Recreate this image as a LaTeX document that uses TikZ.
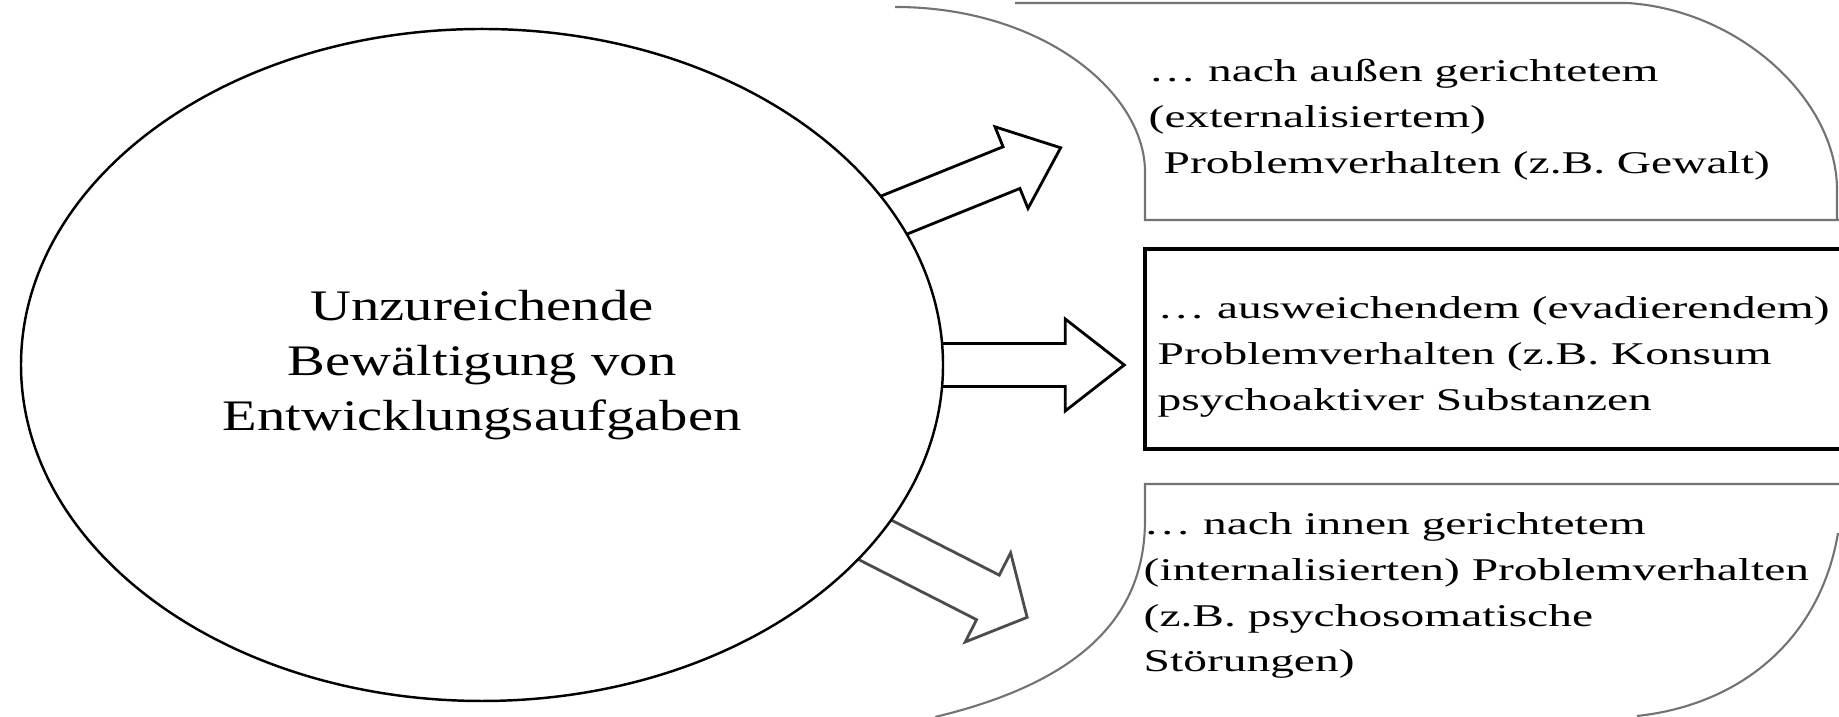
\documentclass[tikz,border=0pt]{standalone}
\usepackage{fontspec}
\newfontfamily\ellfont[FakeStretch=1.3]{Liberation Serif}
\newfontfamily\boxfont[FakeStretch=1.5]{Liberation Serif}
\usetikzlibrary{shapes.geometric,backgrounds}

\tikzset{
	cause/.style={ellipse,draw,line width=0.7pt,fill=white,minimum width=9.22cm,minimum height=6.72cm,inner sep=0pt,align=center,font=\ellfont\fontsize{12.4}{15.6}\selectfont},
	boxtext/.style={anchor=north west,inner sep=0pt,align=left,font=\boxfont\fontsize{9}{13}\selectfont},
	blockarrow/.style={draw,line width=0.8pt,fill=white,line join=miter},
	framearc/.style={draw=black!55,line width=0.6pt},
	mainbox/.style={draw,line width=1.2pt}
}

% block arrow: style, start, angle, shaft half width, head start, head half width, tip
\newcommand{\outarrow}[7]{%
	\draw[#1,shift={(#2)},rotate=#3] (-0.5,-#4) -- (#5,-#4) -- (#5,-#6) -- (#7,0) -- (#5,#6) -- (#5,#4) -- (-0.5,#4) -- cycle;}

\begin{document}
\begin{tikzpicture}
	\useasboundingbox (0,0) rectangle (18.39,7.17);
	\clip (0,0) rectangle (18.39,7.17);

	\node[cause] (cause) at (4.82,3.52) {Unzureichende\\Bewältigung von\\Entwicklungsaufgaben};

	\begin{scope}[on background layer]
		\outarrow{blockarrow}{cause.20}{22}{0.225}{1.25}{0.44}{1.78}
		\outarrow{blockarrow}{cause.0}{0}{0.215}{1.21}{0.46}{1.80}
		\outarrow{blockarrow,draw=black!70}{cause.-24}{-27}{0.25}{1.25}{0.50}{1.69}
	\end{scope}

	% upper box
	\draw[framearc] (10.15,7.14) -- (16.27,7.14) .. controls (17.40,7.07) and (18.37,6.17) .. (18.37,5.27) -- (18.37,4.97);
	\draw[framearc] (18.39,4.97) -- (11.45,4.97) -- (11.45,5.47) .. controls (11.43,6.27) and (10.40,7.10) .. (8.95,7.10);
	\node[boxtext] (ext) at (11.48,6.58) {… nach außen gerichtetem\\(externalisiertem)\\\hspace*{0.15cm}Problemverhalten (z.B. Gewalt)};

	% middle box
	\draw[mainbox] (11.45,2.68) rectangle (18.60,4.68);
	\node[boxtext] (eva) at (11.57,4.21) {… ausweichendem (evadierendem)\\Problemverhalten (z.B. Konsum\\psychoaktiver Substanzen};

	% lower box
	\draw[framearc] (18.39,2.33) -- (11.45,2.33) -- (11.45,1.97) .. controls (11.45,1.07) and (10.90,0.37) .. (9.35,0.00);
	\draw[framearc] (18.38,1.84) .. controls (18.20,0.77) and (17.40,0.12) .. (16.37,0.01);
	\node[boxtext] (int) at (11.43,2.05) {… nach innen gerichtetem\\(internalisierten) Problemverhalten\\(z.B. psychosomatische\\Störungen)};
\end{tikzpicture}
\end{document}
